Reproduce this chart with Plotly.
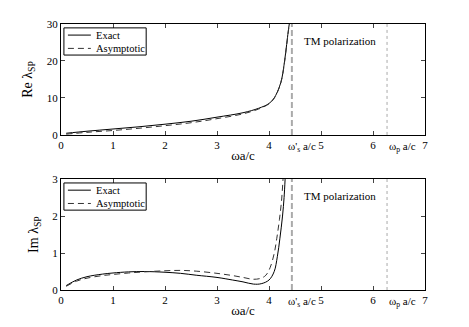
import plotly.graph_objects as go

# top panel: Re lambda_SP
re_x = [0.1, 0.5, 1.0, 1.5, 2.0, 2.5, 3.0, 3.5, 3.8, 4.0, 4.1, 4.2, 4.25, 4.3, 4.34, 4.37, 4.39]
re_exact = [0.45, 1.0, 1.6, 2.2, 2.9, 3.7, 4.8, 6.0, 7.2, 8.5, 10.0, 13.0, 15.5, 20.0, 24.5, 28.0, 30.0]
re_asym = [0.2, 0.7, 1.2, 1.8, 2.5, 3.3, 4.4, 5.7, 7.0, 8.4, 9.9, 12.9, 15.4, 19.8, 24.3, 27.8, 30.0]

# bottom panel: Im lambda_SP
im_x_exact = [0.1, 0.3, 0.5, 0.8, 1.0, 1.3, 1.6, 2.0, 2.3, 2.6, 3.0, 3.3, 3.5, 3.7, 3.85, 4.0, 4.1, 4.16, 4.21, 4.26, 4.29, 4.31]
im_exact = [0.12, 0.27, 0.36, 0.43, 0.46, 0.49, 0.50, 0.48, 0.45, 0.40, 0.34, 0.27, 0.22, 0.16, 0.17, 0.27, 0.50, 0.9, 1.4, 2.0, 2.5, 3.0]
im_x_asym = [0.1, 0.3, 0.5, 0.8, 1.0, 1.3, 1.6, 2.0, 2.3, 2.6, 3.0, 3.3, 3.5, 3.7, 3.85, 3.94, 4.02, 4.1, 4.15, 4.2, 4.24, 4.27]
im_asym = [0.10, 0.24, 0.32, 0.39, 0.42, 0.46, 0.49, 0.52, 0.53, 0.51, 0.45, 0.39, 0.34, 0.29, 0.32, 0.40, 0.6, 0.99, 1.4, 1.9, 2.4, 3.0]

ws = 4.44   # omega'_s a/c
wp = 6.27   # omega_p a/c
legend_names = ['Exact', 'Asymptotic']

FONT = "Liberation Serif, Times New Roman, serif"
solid = dict(color='black', width=1)
dashed = dict(color='#333', width=1, dash='6px,4px')

fig = go.Figure()
fig.add_trace(go.Scatter(x=re_x, y=re_exact, mode='lines', line=dict(solid, shape='spline'), xaxis='x', yaxis='y'))
fig.add_trace(go.Scatter(x=re_x, y=re_asym, mode='lines', line=dict(dashed, shape='spline'), xaxis='x', yaxis='y'))
fig.add_trace(go.Scatter(x=im_x_exact, y=im_exact, mode='lines', line=dict(solid, shape='spline'), xaxis='x2', yaxis='y2'))
fig.add_trace(go.Scatter(x=im_x_asym, y=im_asym, mode='lines', line=dict(dashed, shape='spline'), xaxis='x2', yaxis='y2'))

for xr, yr in (('x', 'y'), ('x2', 'y2')):
    fig.add_shape(type='line', xref=xr, yref=yr + ' domain', x0=ws, x1=ws, y0=0, y1=1,
                  line=dict(color='#aaa', width=2, dash='6px,3px'))
    fig.add_shape(type='line', xref=xr, yref=yr + ' domain', x0=wp, x1=wp, y0=0, y1=1,
                  line=dict(color='#aaa', width=1, dash='dot'))
    # legend box, drawn by hand so it matches the compact original
    xd, yd = xr + ' domain', yr + ' domain'
    fig.add_shape(type='rect', xref=xd, yref=yd, x0=0.008, x1=0.234, y0=0.72, y1=0.965,
                  line=dict(color='black', width=1), fillcolor='white')
    for name, style, yy in zip(legend_names, (solid, dashed), (0.90, 0.78)):
        fig.add_shape(type='line', xref=xd, yref=yd, x0=0.019, x1=0.082, y0=yy, y1=yy, line=style)
        fig.add_annotation(text=name, x=0.091, y=yy, xref=xd, yref=yd, xanchor='left', yanchor='middle',
                           showarrow=False, font=dict(size=10.5, family=FONT))
    fig.add_annotation(text='TM polarization', x=5.37, y=0.92, xref=xr, yref=yd,
                       showarrow=False, font=dict(size=11, family=FONT))
    fig.add_annotation(text="ω'<sub>s</sub> a/c", x=4.33, y=0, xref=xr, yref=yd, yshift=-3,
                       xanchor='left', yanchor='top', showarrow=False, font=dict(size=11, family=FONT))
    fig.add_annotation(text='ω<sub>p</sub> a/c', x=wp, y=0, xref=xr, yref=yd, yshift=-3,
                       xanchor='left', yanchor='top', showarrow=False, font=dict(size=11, family=FONT))

ax = dict(range=[0, 7], dtick=1, ticks='inside', ticklen=4, mirror='ticks', showline=True, linecolor='black',
          linewidth=1, showgrid=False, zeroline=False, automargin=False,
          tickfont=dict(size=11, family=FONT, color='black'))
# the page body has an 8px margin, so the figure is 8px smaller than the window
fig.update_layout(
    width=461, height=319, margin=dict(l=53, r=44, t=16, b=37),
    plot_bgcolor='white', paper_bgcolor='white', showlegend=False,
    font=dict(family=FONT, color='black'),
    xaxis=dict(ax, domain=[0, 1], anchor='y',
               title=dict(text='ωa/c', font=dict(size=13), standoff=0)),
    yaxis=dict(ax, range=[0, 30], dtick=10, domain=[0.583, 1], anchor='x',
               title=dict(text='Re λ<sub>SP</sub>', font=dict(size=14), standoff=10)),
    xaxis2=dict(ax, domain=[0, 1], anchor='y2',
                title=dict(text='ωa/c', font=dict(size=13), standoff=0)),
    yaxis2=dict(ax, range=[0, 3], dtick=1, domain=[0, 0.417], anchor='x2',
                title=dict(text='Im λ<sub>SP</sub>', font=dict(size=14), standoff=10)),
)

fig.write_html("out.html")
